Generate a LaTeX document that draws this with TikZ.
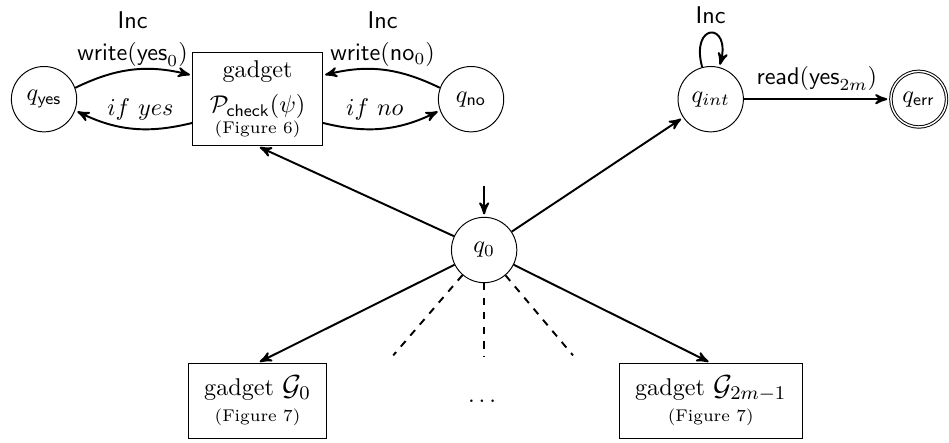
\documentclass[tikz,border=0pt]{standalone}
\usepackage{amsmath}
\usepackage{amssymb}
\usepackage{tikz}
\usetikzlibrary{arrows,automata,positioning}

\begin{document}
\begin{tikzpicture}[>=stealth',shorten >=1pt,auto,on grid,node distance=2.19cm and 3.29cm,
    every state/.style={draw,thin,minimum size=27pt,inner sep=1pt},
    every initial by arrow/.style={thick},
    every loop/.style={looseness=7},
    gadget/.style={draw,rectangle,align=center,inner xsep=6.5pt,inner ysep=5pt}]
  \useasboundingbox (-7.03,-2.80) rectangle (6.75,3.63);

  \node[state, initial above, initial text=] (q0) {$q_0$};
  \node[gadget, inner xsep=7pt, inner ysep=3.3pt] (P) [above left=of q0]
      {gadget\\[2.5pt]$\mathcal{P}_{\mathsf{check}}(\psi)$\\[-3.3pt]{\scriptsize (Figure 6)}};
  \node[state]  (qyes) [left=3.1cm of P]  {$q_{\mathsf{yes}}$};
  \node[state]  (qno)  [right=3.1cm of P] {$q_{\mathsf{no}}$};
  \node[state]  (qint) [above right=of q0] {$q_{int}$};
  \node[state, accepting, minimum size=23pt] (qerr) [right=3.02cm of qint] {$q_{\mathsf{err}}$};
  \node[gadget] (G0) [below left=of q0]  {gadget {\large $\mathcal{G}_0$}\\[-1pt]{\scriptsize (Figure 7)}};
  \node[gadget] (G2) [below right=of q0] {gadget {\large $\mathcal{G}_{2m-1}$}\\[-1pt]{\scriptsize (Figure 7)}};
  \node (dots) [below=2.2cm of q0] {$\dots$};

  % free ends of the dashed lines
  \coordinate (dl) at (-1.32,-1.53);
  \coordinate (dm) at (0,-1.55);
  \coordinate (dr) at (1.29,-1.53);

  \draw[->, thick]
      (qyes) edge [bend left=20] node[above,inner sep=1pt,align=center] {\textsf{Inc}\\[1.2pt]$\mathsf{write}(\mathsf{yes}_0)$} (P)
      (P)    edge [bend left=20] node[above,pos=0.43] {$if~yes$} (qyes)
      (qno)  edge [bend right=20] node[above,inner sep=1pt,align=center] {\textsf{Inc}\\[1.2pt]$\mathsf{write}(\mathsf{no}_0)$} (P)
      (P)    edge [bend right=20] node[above,pos=0.43] {$if~no$} (qno)
      (q0)   edge (P.south)
             edge (qint)
             edge (G0.north)
             edge (G2.north)
      (qint) edge [loop above] node {\textsf{Inc}} ()
             edge node[above] {$\mathsf{read}(\mathsf{yes}_{2m})$} (qerr);

  \draw[thick, dashed, shorten >=0pt] (q0) -- (dl);
  \draw[thick, dashed, shorten >=0pt] (q0) -- (dm);
  \draw[thick, dashed, shorten >=0pt] (q0) -- (dr);
\end{tikzpicture}
\end{document}
